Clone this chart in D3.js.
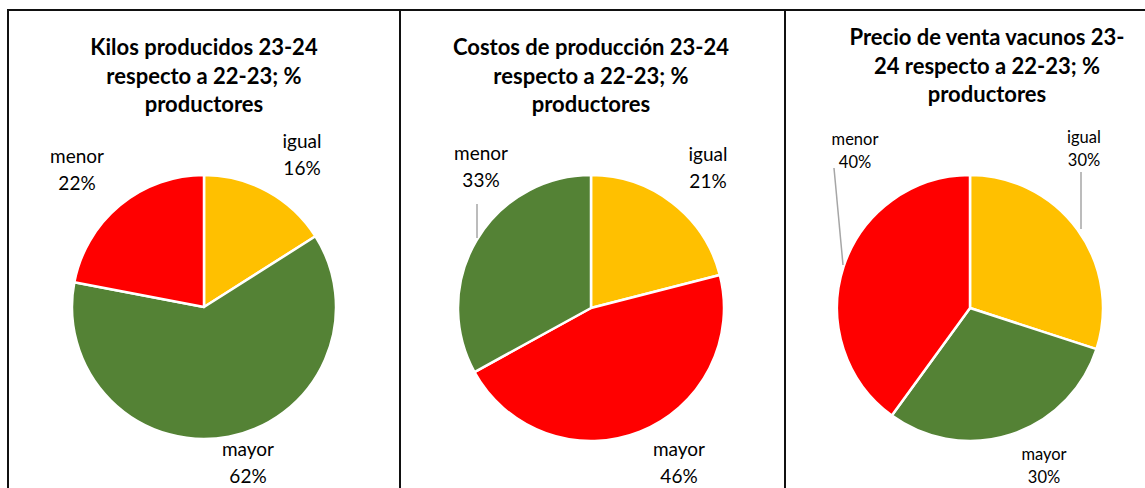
<!DOCTYPE html>
<html>
  <head>
    <meta http-equiv="Content-Type" content="text/html;charset=utf-8" />
    <title>Tortas productores 23-24</title>
    <script type="text/javascript" src="https://d3js.org/d3.v7.min.js"></script>
    <style>
      body { margin: 0; background: #fff; }
      svg text { font-family: Lato, "Noto Sans", sans-serif; fill: #000; }
    </style>
  </head>
  <body>
    <div id="chart"></div>

    <script type="text/javascript">
      // data
      var categories = ["igual", "mayor", "menor"];
      var kilos = [16, 62, 22];
      var costos = [21, 46, 33];
      var precio = [30, 30, 40];

      var titles = [
        ["Kilos producidos 23-24", "respecto a 22-23; %", "productores"],
        ["Costos de producción 23-24", "respecto a 22-23; %", "productores"],
        ["Precio de venta vacunos 23-", "24 respecto a 22-23; %", "productores"]
      ];

      var yellow = "#FFC000", green = "#548235", red = "#FF0000";
      var palettes = [
        [yellow, green, red],
        [yellow, red, green],
        [yellow, green, red]
      ];

      var width = 1145, height = 488;

      // layout of each panel (label spots as placed in the original workbook)
      var panels = [
        {
          values: kilos, cx: 204, cy: 307, r: 132, titleX: 204, titleY: 55, fs: 19,
          labels: { igual: [302, 148], mayor: [248, 456], menor: [77, 163] },
          leaders: []
        },
        {
          values: costos, cx: 591, cy: 308, r: 133, titleX: 591, titleY: 55, fs: 19,
          labels: { igual: [708, 161], mayor: [679, 456], menor: [481, 160] },
          leaders: [[[477, 204], [477, 238]]]
        },
        {
          values: precio, cx: 970, cy: 308, r: 133, titleX: 987, titleY: 45, fs: 16.5,
          labels: { igual: [1084, 143], mayor: [1044, 460], menor: [855, 145] },
          leaders: [[[1081, 172], [1081, 229]], [[834, 168], [843, 265]]]
        }
      ];

      var svg = d3
        .select("#chart")
        .append("svg")
        .attr("width", width)
        .attr("height", height);

      // panel frames
      var frame = svg.append("g").attr("stroke", "#111").attr("stroke-width", 2);
      frame.append("line").attr("x1", 7).attr("x2", width).attr("y1", 10).attr("y2", 10);
      [8, 400, 785].forEach(function(x) {
        frame.append("line").attr("x1", x).attr("x2", x).attr("y1", 9).attr("y2", height);
      });

      var pie = d3.pie().sort(null).value(function(d) { return d.value; });

      panels.forEach(function(p, i) {
        var data = categories.map(function(c, j) {
          return { cat: c, value: p.values[j], color: palettes[i][j] };
        });

        var g = svg.append("g");

        // title
        var t = g.append("text")
          .attr("x", p.titleX)
          .attr("y", p.titleY)
          .attr("text-anchor", "middle")
          .attr("font-weight", "bold")
          .attr("font-size", 22);
        titles[i].forEach(function(line, k) {
          t.append("tspan")
            .attr("x", p.titleX)
            .attr("dy", k === 0 ? 0 : 28.7)
            .text(line);
        });

        var arc = d3.arc().innerRadius(0).outerRadius(p.r);

        g.append("g")
          .attr("transform", "translate(" + p.cx + "," + p.cy + ")")
          .selectAll("path")
          .data(pie(data))
          .join("path")
          .attr("d", arc)
          .attr("fill", function(d) { return d.data.color; })
          .attr("stroke", "#fff")
          .attr("stroke-width", 2.5)
          .attr("stroke-linejoin", "round");

        // leader lines
        p.leaders.forEach(function(l) {
          g.append("line")
            .attr("x1", l[0][0]).attr("y1", l[0][1])
            .attr("x2", l[1][0]).attr("y2", l[1][1])
            .attr("stroke", "#A6A6A6")
            .attr("stroke-width", 1.5);
        });

        // data labels
        data.forEach(function(d) {
          var pos = p.labels[d.cat];
          var lbl = g.append("text")
            .attr("x", pos[0])
            .attr("y", pos[1])
            .attr("text-anchor", "middle")
            .attr("font-size", p.fs);
          lbl.append("tspan").attr("x", pos[0]).text(d.cat);
          lbl.append("tspan")
            .attr("x", pos[0])
            .attr("dy", p.fs * 1.4)
            .text(d.value + "%");
        });
      });
    </script>
  </body>
</html>
